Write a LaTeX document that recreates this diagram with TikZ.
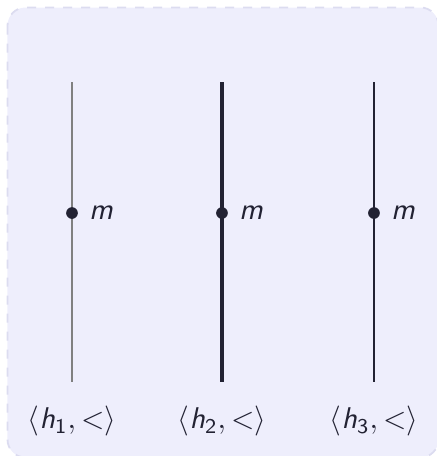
\documentclass[tikz,border=0pt]{standalone}
\usepackage{amsmath}
\usetikzlibrary{positioning}

\definecolor{bgfill}{HTML}{EEEEFC}
\definecolor{bgline}{HTML}{DCDCF0}
\definecolor{ink}{HTML}{222233}

\newcommand{\ordlab}[1]{$\langle\textsf{\itshape h}_{\textsf{#1}},<\rangle$}

\tikzset{
  chain/.style={line width=0.4pt},
  point/.style={circle, fill=ink, inner sep=0pt, minimum size=3.9pt},
  elem/.style={font=\sffamily\itshape, text=ink},
  ordname/.style={font=\sffamily, text=ink}
}

\begin{document}
\begin{tikzpicture}[x=0.3333pt, y=-0.3333pt]

  \useasboundingbox (0,0) rectangle (437,456);

  % --- sfondo ---
  \draw[bgline, fill=bgfill, dashed, rounded corners=6pt, line width=0.6pt]
    (7.5,7.5) rectangle (438.5,457.5);

  % --- ordine 1 (sottile, grigio) ---
  \coordinate (top1) at (72,82);
  \coordinate (bot1) at (72,382);
  \draw[chain, black!50] (top1) -- (bot1);
  \node[point] (m1) at (72,213) {};
  \node[elem, right=0pt of m1] (lm1) {m};
  \node[ordname] (o1) at (72,421) {\ordlab{1}};

  % --- ordine 2 (spesso) ---
  \coordinate (top2) at (222,82);
  \coordinate (bot2) at (222,382);
  \draw[chain, ink, line width=1.2pt] (top2) -- (bot2);
  \node[point] (m2) at (222,213) {};
  \node[elem, right=0pt of m2] (lm2) {m};
  \node[ordname] (o2) at (222,421) {\ordlab{2}};

  % --- ordine 3 (sottile, nero) ---
  \coordinate (top3) at (374,82);
  \coordinate (bot3) at (374,382);
  \draw[chain, ink] (top3) -- (bot3);
  \node[point] (m3) at (374,213) {};
  \node[elem, right=0pt of m3] (lm3) {m};
  \node[ordname] (o3) at (374,421) {\ordlab{3}};

\end{tikzpicture}
\end{document}
